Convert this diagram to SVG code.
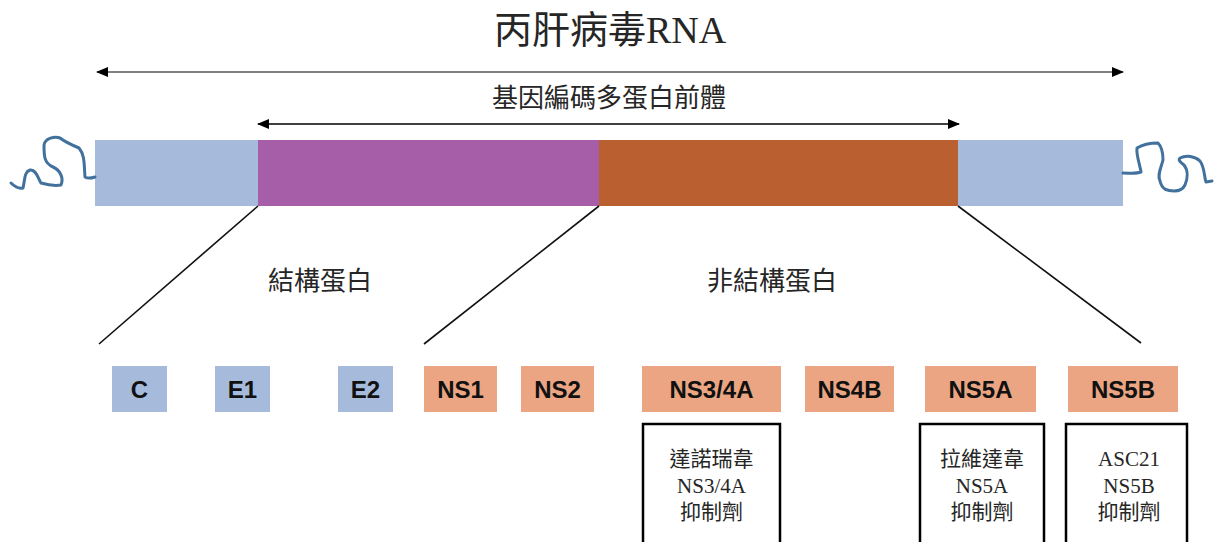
<svg xmlns="http://www.w3.org/2000/svg" width="1215" height="542" viewBox="0 0 1215 542">
  <style>
    .serif { font-family: "Liberation Serif", "Noto Sans CJK TC", serif; fill: #262626; }
    .label { font-family: "Liberation Sans", "Noto Sans CJK TC", sans-serif; font-weight: bold; font-size: 24px; fill: #111; text-anchor: middle; }
    .blue { fill: #A6BBDC; }
    .salmon { fill: #EBA582; }
    .drug { fill: #fff; stroke: #000; stroke-width: 2.5; }
    .drugtext { font-size: 21px; text-anchor: middle; }
    .link { stroke: #111; stroke-width: 1.6; fill: none; }
    .tail { stroke: #41719C; stroke-width: 3; fill: none; stroke-linecap: round; stroke-linejoin: round; }
  </style>
  <defs>
    <marker id="head" viewBox="0 0 12 10" refX="11" refY="5" markerWidth="12" markerHeight="10" markerUnits="userSpaceOnUse" orient="auto-start-reverse">
      <path d="M0,0 L12,5 L0,10 Z" fill="#000"/>
    </marker>
  </defs>

  <rect width="1215" height="542" fill="#fff"/>

  <!-- titles -->
  <text class="serif" x="610" y="43" font-size="38" text-anchor="middle">丙肝病毒RNA</text>
  <text class="serif" x="609" y="107" font-size="26" text-anchor="middle">基因編碼多蛋白前體</text>
  <text class="serif" x="320" y="290" font-size="26" text-anchor="middle">結構蛋白</text>
  <text class="serif" x="772" y="290" font-size="26" text-anchor="middle">非結構蛋白</text>

  <!-- genome bar -->
  <g id="genome">
    <rect class="blue" x="95" y="140" width="163" height="66"/>
    <rect x="258" y="140" width="341" height="66" fill="#A65EA8"/>
    <rect x="599" y="140" width="359" height="66" fill="#BA5F30"/>
    <rect class="blue" x="958" y="140" width="165" height="66"/>
    <path class="tail" d="M11,183 C15,187 19,189 23,188 C25,180 24,172 30,170 C36,169 38,178 41,183 C48,185 55,186 61,185 C64,178 60,170 53,167 C44,163 44,156 44,145 C45,138 55,136 60,138 C65,142 72,145 79,148 C85,155 84,165 85,177 C88,179 92,178 95,177"/>
    <path class="tail" d="M1123,173 C1130,173 1136,174 1141,172 C1140,165 1136,155 1137,148 C1145,143 1152,143 1158,143 C1163,148 1163,155 1163,160 C1161,168 1157,175 1160,181 C1162,190 1168,191 1174,191 C1180,191 1183,189 1185,185 C1188,178 1188,170 1184,165 C1180,162 1178,160 1180,158 C1186,155 1195,156 1200,161 C1205,168 1204,177 1206,182 L1212,181"/>
  </g>

  <!-- connectors -->
  <g id="connectors">
    <line x1="97" y1="72" x2="1123" y2="72" stroke="#808080" stroke-width="2" marker-start="url(#head)" marker-end="url(#head)"/>
    <line x1="258" y1="124" x2="959" y2="124" stroke="#000" stroke-width="1.3" marker-start="url(#head)" marker-end="url(#head)"/>
    <line class="link" x1="258" y1="206" x2="99" y2="344"/>
    <line class="link" x1="599" y1="206" x2="424" y2="344"/>
    <line class="link" x1="958" y1="206" x2="1141" y2="343"/>
  </g>

  <!-- protein nodes -->
  <g id="C"><rect class="blue" x="112" y="366" width="55" height="46"/><text class="label" x="139.5" y="398">C</text></g>
  <g id="E1"><rect class="blue" x="215" y="366" width="55" height="46"/><text class="label" x="242.5" y="398">E1</text></g>
  <g id="E2"><rect class="blue" x="338" y="366" width="55" height="46"/><text class="label" x="365.5" y="398">E2</text></g>
  <g id="NS1"><rect class="salmon" x="424" y="366" width="73" height="46"/><text class="label" x="460.5" y="398">NS1</text></g>
  <g id="NS2"><rect class="salmon" x="521" y="366" width="73" height="46"/><text class="label" x="557.5" y="398">NS2</text></g>
  <g id="NS34A"><rect class="salmon" x="642" y="366" width="139" height="46"/><text class="label" x="711.5" y="398">NS3/4A</text></g>
  <g id="NS4B"><rect class="salmon" x="805" y="366" width="89" height="46"/><text class="label" x="849.5" y="398">NS4B</text></g>
  <g id="NS5A"><rect class="salmon" x="925" y="366" width="111" height="46"/><text class="label" x="980.5" y="398">NS5A</text></g>
  <g id="NS5B"><rect class="salmon" x="1068" y="366" width="110" height="46"/><text class="label" x="1123" y="398">NS5B</text></g>

  <!-- inhibitor nodes -->
  <g id="danoprevir">
    <rect class="drug" x="643" y="424" width="137" height="130"/>
    <text class="serif drugtext" x="711.5" y="466">達諾瑞韋</text>
    <text class="serif drugtext" x="711.5" y="493">NS3/4A</text>
    <text class="serif drugtext" x="711.5" y="519">抑制劑</text>
  </g>
  <g id="ravidasvir">
    <rect class="drug" x="920" y="424" width="124" height="130"/>
    <text class="serif drugtext" x="982" y="466">拉維達韋</text>
    <text class="serif drugtext" x="982" y="493">NS5A</text>
    <text class="serif drugtext" x="982" y="519">抑制劑</text>
  </g>
  <g id="asc21">
    <rect class="drug" x="1066" y="424" width="121" height="130"/>
    <text class="serif drugtext" x="1129" y="466">ASC21</text>
    <text class="serif drugtext" x="1129" y="493">NS5B</text>
    <text class="serif drugtext" x="1129" y="519">抑制劑</text>
  </g>
</svg>
